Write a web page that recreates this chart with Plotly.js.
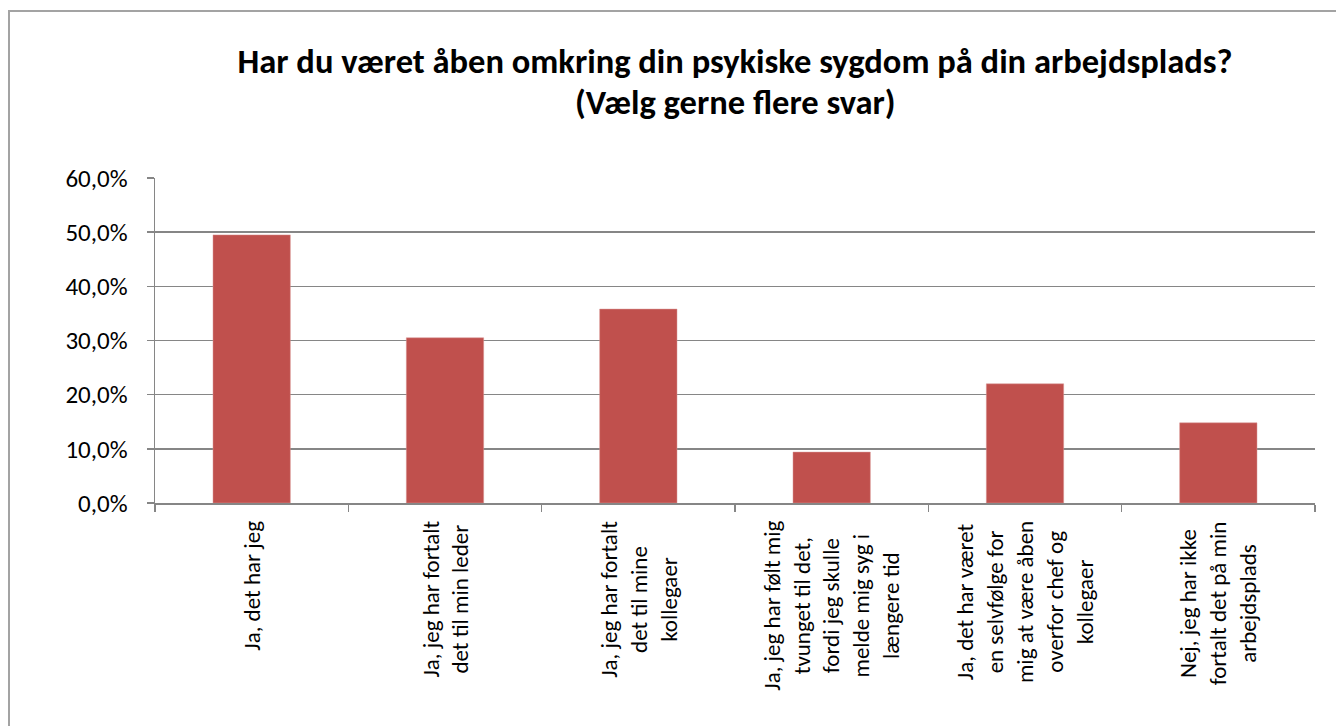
<!DOCTYPE html>
<html>
<head>
<meta charset="utf-8">
<script src="https://cdn.plot.ly/plotly-3.0.1.min.js"></script>
<style>
  html, body { margin: 0; padding: 0; background: #ffffff; overflow: hidden; }
  #chart { position: absolute; left: 0; top: 0; width: 1336px; height: 726px; }
  #frame { position: absolute; left: 8px; top: 10px; width: 2000px; height: 2000px;
           border: 2px solid #a3a3a3; pointer-events: none; box-sizing: border-box; }
</style>
</head>
<body>
<div id="chart"></div>
<div id="frame"></div>
<script>
// ---- data ----
var titleLine1 = "Har du været åben omkring din psykiske sygdom på din arbejdsplads?";
var titleLine2 = "(Vælg gerne flere svar)";
var categories = [
  "Ja, det har jeg",
  "Ja, jeg har fortalt<br>det til min leder",
  "Ja, jeg har fortalt<br>det til mine<br>kollegaer",
  "Ja, jeg har følt mig<br>tvunget til det,<br>fordi jeg skulle<br>melde mig syg i<br>længere tid",
  "Ja, det har været<br>en selvfølge for<br>mig at være åben<br>overfor chef og<br>kollegaer",
  "Nej, jeg har ikke<br>fortalt det på min<br>arbejdsplads"
];
var shares = [0.495, 0.305, 0.358, 0.094, 0.220, 0.148];
var yTickValues = [0, 0.1, 0.2, 0.3, 0.4, 0.5, 0.6];

// ---- chart ----
var fontStack = "Carlito, Lato, 'Open Sans', sans-serif";
var titleFont = { family: fontStack, size: 34.5, color: "#000000", weight: "bold" };

var trace = {
  type: "bar",
  x: categories,
  y: shares,
  marker: { color: "#C0504D", line: { color: "#D99694", width: 0.5 } },
  hoverinfo: "x+y"
};

var labelAnnotations = categories.map(function (c) {
  return {
    x: c, xref: "x",
    y: 0, yref: "paper",
    yanchor: "top", xanchor: "center",
    yshift: -16,
    textangle: -90,
    text: c,
    align: "center",
    showarrow: false,
    font: { family: fontStack, size: 23, color: "#000000" }
  };
});

var subtitleAnnotation = {
  text: titleLine2,
  xref: "paper", x: 0.5, xanchor: "center",
  yref: "paper", y: (503 - 110) / 325, yanchor: "bottom",
  yshift: -14,
  borderpad: 0,
  showarrow: false,
  font: titleFont
};

var layout = {
  width: 1336,
  height: 726,
  margin: { l: 155, r: 21, t: 178, b: 223 },
  paper_bgcolor: "rgba(0,0,0,0)",
  plot_bgcolor: "rgba(0,0,0,0)",
  separators: ",.",
  showlegend: false,
  bargap: 0.6,
  title: {
    text: titleLine1,
    font: titleFont,
    x: 0.5, xref: "paper", xanchor: "center",
    y: 1 - 61 / 726, yref: "container", yanchor: "middle"
  },
  xaxis: {
    showticklabels: false,
    ticks: "outside",
    tickson: "boundaries",
    ticklen: 7,
    tickcolor: "#868686",
    tickwidth: 1.5,
    showline: true,
    linecolor: "#868686",
    linewidth: 1.5,
    showgrid: false,
    zeroline: false
  },
  yaxis: {
    range: [0, 0.6],
    tickvals: yTickValues,
    tickformat: ".1%",
    ticks: "outside",
    ticklen: 7,
    tickcolor: "#868686",
    tickwidth: 1.5,
    ticklabelstandoff: 14,
    showline: true,
    linecolor: "#868686",
    linewidth: 1.5,
    showgrid: true,
    gridcolor: "#868686",
    gridwidth: 1.5,
    zeroline: false,
    tickfont: { family: fontStack, size: 25, color: "#000000" }
  },
  annotations: labelAnnotations.concat([subtitleAnnotation])
};

Plotly.newPlot("chart", [trace], layout, { displayModeBar: false, staticPlot: true });
</script>
</body>
</html>
